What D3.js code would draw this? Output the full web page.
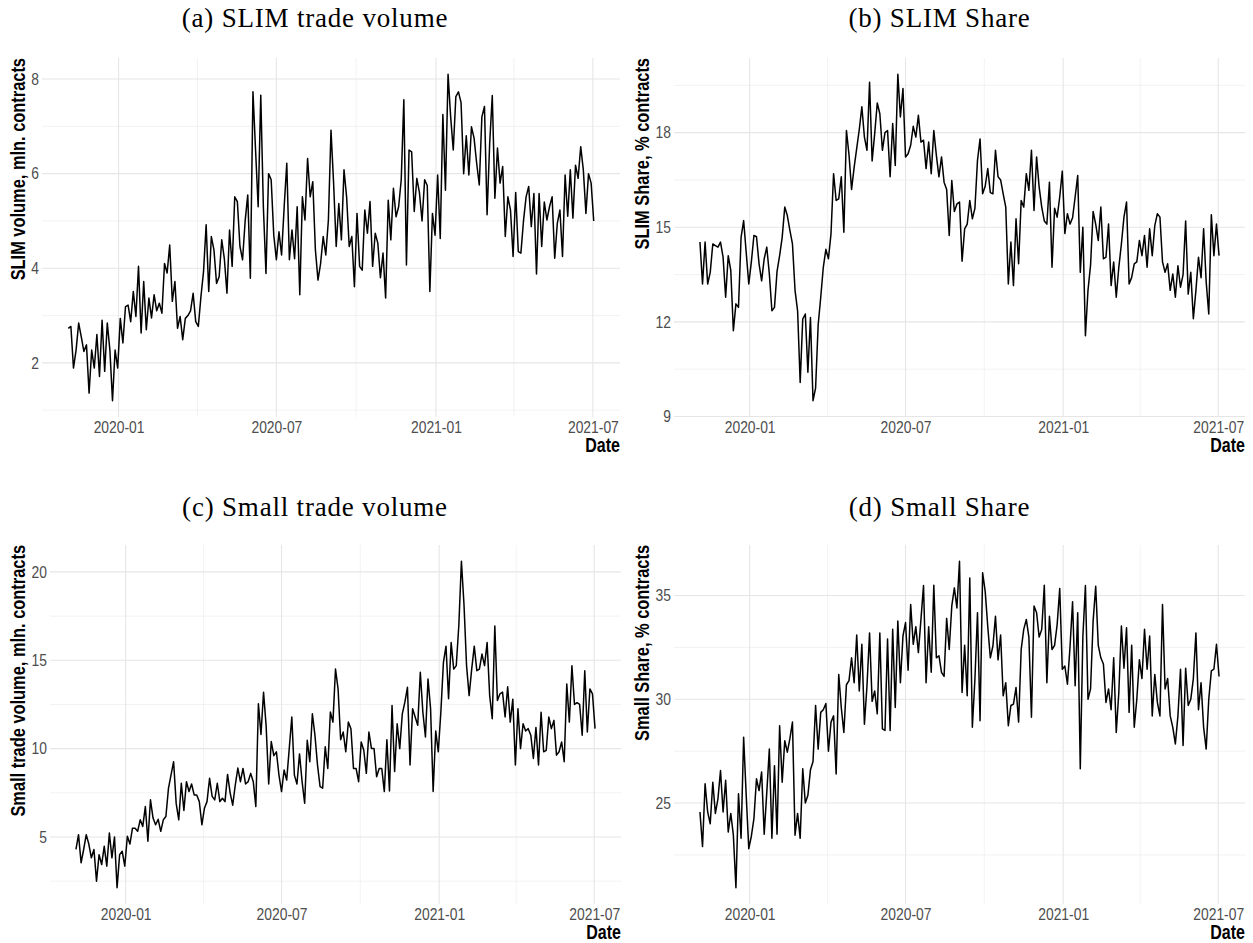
<!DOCTYPE html>
<html>
<head>
<meta charset="utf-8">
<script src="https://cdn.jsdelivr.net/npm/d3@7"></script>
<style>
  body { margin: 0; background: #fff; }
  .tick-label { font-family: "Liberation Sans", Arial, sans-serif; font-size: 16.5px; fill: #4d4d4d; }
  .axis-title { font-family: "Liberation Sans", Arial, sans-serif; font-size: 20px; font-weight: bold; fill: #000; }
  .plot-title { font-family: "Liberation Serif", "DejaVu Serif", serif; font-size: 27px; fill: #000; letter-spacing: 0.8px; }
</style>
</head>
<body>
<svg id="chart" width="1253" height="943"></svg>
<script>
// series, one value every 3 calendar days from the first session
var startDate = "2019-11-04";
var stepDays = 3;

var slimVolume = [
  2.73,2.77,1.89,2.27,2.84,2.55,2.24,2.38,1.36,2.27,
  1.89,2.6,1.71,2.9,1.82,2.84,2.27,1.2,2.27,1.89,
  2.94,2.42,3.19,3.22,2.87,3.51,2.98,4.04,2.63,3.72,
  2.7,3.37,2.95,3.44,3.1,3.26,3.05,4.1,3.9,4.49,
  3.3,3.72,2.73,2.98,2.49,2.94,3.0,3.1,3.47,2.87,
  2.77,3.4,3.93,4.92,3.51,4.67,4.39,3.68,3.82,4.6,
  4.2,3.47,4.81,4.04,5.51,5.41,4.46,4.18,5.0,5.55,
  3.79,7.73,6.5,5.3,7.66,5.3,3.89,6.0,5.87,4.7,
  4.18,4.77,4.28,5.3,6.22,4.18,4.81,4.2,5.3,3.44,
  5.51,5.02,6.32,5.51,5.83,4.39,3.75,4.1,4.67,4.28,
  5.02,6.92,5.8,4.46,5.37,4.6,6.08,5.51,4.46,4.67,
  3.61,5.16,4.04,3.96,5.23,4.74,5.41,4.04,4.74,4.53,
  3.8,4.32,3.37,5.44,4.6,5.69,5.09,5.3,5.87,7.56,
  4.07,6.5,6.46,5.2,5.9,5.6,5.0,5.87,5.75,3.51,
  5.16,4.7,5.97,4.63,7.25,5.65,8.1,7.2,6.5,7.63,
  7.73,7.5,6.0,6.8,5.97,6.99,6.75,6.22,5.76,7.2,
  7.42,5.13,6.64,7.65,5.48,6.54,5.8,6.15,4.67,5.51,
  5.23,4.25,5.6,4.35,4.32,5.0,5.51,5.73,4.88,5.58,
  3.88,5.58,4.46,5.4,5.02,5.3,5.51,4.21,4.95,5.23,
  4.25,5.97,5.1,6.08,5.06,6.18,5.9,6.57,6.08,5.16,
  6.0,5.8,5.0
];

var slimShare = [
  14.53,13.2,14.53,13.2,13.57,14.47,14.42,14.37,14.53,14.05,
  12.78,14.1,13.63,11.72,12.57,12.46,14.68,15.21,14.2,13.2,
  13.9,14.74,14.7,13.84,13.3,14.0,14.37,13.52,12.35,12.46,
  13.6,14.1,14.68,15.64,15.37,14.9,14.47,13.0,12.35,10.08,
  12.09,12.25,10.4,12.14,9.5,9.9,11.9,12.78,13.73,14.3,
  14.0,14.8,16.7,15.85,15.9,16.6,14.84,18.07,17.3,16.2,
  16.9,17.5,18.1,18.82,17.86,17.44,19.6,17.1,17.97,18.94,
  18.6,17.44,18.0,18.07,16.6,18.29,16.96,19.85,18.5,19.4,
  17.23,17.33,17.6,18.2,17.86,18.55,17.7,17.76,16.86,17.7,
  16.7,18.07,17.28,16.6,17.23,16.43,16.2,14.74,16.48,15.5,
  15.74,15.8,13.92,14.95,15.1,15.85,15.27,15.6,17.12,17.8,
  16.06,16.3,16.86,16.1,16.06,17.44,16.6,16.5,16.06,15.64,
  13.2,14.53,13.15,15.27,13.84,15.85,15.64,16.7,16.17,17.44,
  15.53,17.23,16.27,15.64,15.2,15.1,16.43,13.73,15.6,15.32,
  15.96,16.78,14.8,15.43,15.1,15.3,15.96,16.64,13.57,15.0,
  11.56,13.0,13.8,15.5,15.1,14.58,15.64,14.0,14.05,15.1,
  13.15,13.9,12.78,13.73,14.47,15.32,15.8,13.2,13.41,13.84,
  13.9,14.58,14.1,14.74,13.73,14.95,14.1,15.05,15.43,15.32,
  13.9,13.57,13.84,13.0,13.52,12.78,13.78,13.1,13.5,15.2,
  12.88,13.57,12.1,13.0,14.05,13.4,14.95,13.26,12.25,15.4,
  14.1,15.1,14.1
];

var smallVolume = [
  4.3,5.13,3.54,4.29,5.13,4.6,3.82,4.29,2.5,4.0,
  3.44,4.47,3.35,5.22,3.82,5.0,2.13,4.0,4.19,3.35,
  5.04,4.6,5.5,5.5,5.32,5.97,5.6,6.72,4.76,7.1,
  6.07,5.69,6.0,5.32,5.97,6.16,7.75,8.51,9.26,6.9,
  5.97,8.04,6.5,8.13,7.57,8.0,7.38,7.38,7.0,5.69,
  6.63,7.0,8.32,7.3,7.1,8.04,7.0,7.19,7.0,8.54,
  7.5,6.8,7.94,8.9,8.13,8.88,8.0,8.13,8.6,8.13,
  6.72,12.54,10.8,13.19,11.3,8.0,10.4,9.6,9.82,8.5,
  7.57,8.79,8.22,10.0,11.79,8.5,8.0,9.7,8.13,6.91,
  10.47,9.26,11.97,10.76,9.07,7.85,7.76,10.1,8.88,12.07,
  11.5,14.5,13.38,10.5,10.94,9.82,11.5,11.13,8.88,8.88,
  8.13,10.38,9.91,8.6,10.94,10.0,10.0,8.41,8.88,8.88,
  7.57,10.5,7.6,12.44,8.7,11.41,10.0,11.97,12.63,13.47,
  9.07,12.26,11.79,11.32,14.32,12.06,10.66,13.94,12.26,7.57,
  11.0,9.82,12.07,14.88,15.8,12.82,16.0,14.5,14.7,17.0,
  20.6,18.16,14.7,13.0,14.5,15.8,14.41,14.5,15.35,14.7,
  16.0,13.0,11.69,16.94,12.72,13.1,13.2,11.79,13.5,11.5,
  12.8,9.07,12.26,10.0,11.41,11.0,11.13,10.76,9.44,11.2,
  9.07,12.06,9.82,9.9,11.79,11.13,11.6,9.63,9.82,10.38,
  9.26,13.66,11.5,14.69,12.5,12.6,12.5,10.76,14.41,10.94,
  13.38,13.1,11.13
];

var smallShare = [
  24.57,22.9,25.93,24.57,24.0,26.0,24.5,25.2,26.57,24.57,
  26.1,23.6,24.5,23.45,20.92,25.45,23.3,28.17,25.37,22.8,
  23.4,24.25,26.17,25.6,26.5,23.5,25.5,27.6,23.3,26.8,
  23.5,28.73,26.0,28.0,27.45,28.1,28.9,23.45,24.5,23.3,
  26.65,25.0,25.37,26.6,27.0,29.7,27.6,29.37,29.5,29.8,
  27.5,28.9,29.2,26.4,31.2,29.6,28.4,30.7,30.9,32.0,
  30.8,33.1,30.4,32.65,28.8,30.65,33.2,29.9,30.4,29.3,
  33.2,28.57,28.5,32.9,28.5,33.37,29.6,33.77,30.8,33.05,
  33.7,31.4,34.57,32.65,33.5,32.25,33.85,35.48,30.8,33.5,
  31.3,35.5,32.0,32.1,31.3,31.1,33.9,32.4,34.5,35.37,
  34.4,36.65,30.33,32.6,30.17,35.85,28.65,30.97,34.17,28.97,
  36.1,35.2,33.5,32.0,32.57,34.0,31.9,33.1,30.17,30.8,
  28.73,29.7,29.77,30.57,28.9,32.4,33.37,33.85,33.0,29.13,
  34.5,34.17,33.0,33.37,35.5,30.8,34.0,32.4,32.6,33.6,
  35.34,31.45,31.6,30.73,32.5,34.7,30.65,34.17,26.65,33.0,
  35.48,30.0,30.5,33.77,35.45,32.6,32.0,31.7,29.85,30.5,
  29.5,32.0,28.4,30.33,33.53,31.5,33.45,29.37,32.6,28.65,
  30.0,31.9,31.0,33.37,31.45,33.05,29.2,31.2,29.85,29.2,
  34.57,30.5,31.0,29.2,28.65,27.85,29.2,31.45,27.77,31.5,
  29.7,30.0,31.0,33.2,29.5,30.8,28.65,27.6,30.0,31.37,
  31.45,32.65,31.1
];

// axis breaks
var xTicks = ["2020-01-01", "2020-07-01", "2021-01-01", "2021-07-01"];
var xMinorTicks = ["2019-10-01", "2020-04-01", "2020-10-01", "2021-04-01", "2021-10-01"];
var slimVolumeTicks = [2, 4, 6, 8],      slimVolumeMinor = [1, 3, 5, 7, 9];
var slimShareTicks = [9, 12, 15, 18],    slimShareMinor = [7.5, 10.5, 13.5, 16.5, 19.5];
var smallVolumeTicks = [5, 10, 15, 20],  smallVolumeMinor = [2.5, 7.5, 12.5, 17.5];
var smallShareTicks = [25, 30, 35],      smallShareMinor = [20, 22.5, 27.5, 32.5, 37.5];

var parseDay = d3.timeParse("%Y-%m-%d");
var fmtTick = d3.timeFormat("%Y-%m");
var t0 = parseDay(startDate);

var panels = [
  {title: "(a) SLIM trade volume", yTitle: "SLIM volume, mln. contracts", values: slimVolume,
   ticks: slimVolumeTicks, minor: slimVolumeMinor, left: 42, right: 620, top: 58, bottom: 417, cx: 315, ty: 27, ytx: 25},
  {title: "(b) SLIM Share", yTitle: "SLIM Share, % contracts", values: slimShare,
   ticks: slimShareTicks, minor: slimShareMinor, left: 674, right: 1245, top: 58, bottom: 417, cx: 939.5, ty: 27, ytx: 649},
  {title: "(c) Small trade volume", yTitle: "Small trade volume, mln. contracts", values: smallVolume,
   ticks: smallVolumeTicks, minor: smallVolumeMinor, left: 50, right: 621, top: 545, bottom: 904, cx: 315, ty: 516, ytx: 25},
  {title: "(d) Small Share", yTitle: "Small Share, % contracts", values: smallShare,
   ticks: smallShareTicks, minor: smallShareMinor, left: 674, right: 1245, top: 545, bottom: 904, cx: 939.5, ty: 516, ytx: 649}
];

// no narrow face installed, so squeeze the sans text horizontally
function condense(sel, k) {
  sel.each(function () {
    var len = this.getComputedTextLength();
    d3.select(this).attr("textLength", len * k).attr("lengthAdjust", "spacingAndGlyphs");
  });
}

var svg = d3.select("#chart");

panels.forEach(function (p) {
  var data = p.values.map(function (v, i) {
    return {date: d3.timeDay.offset(t0, i * stepDays), v: v};
  });

  // ggplot style 5% expansion on both axes
  var xExt = d3.extent(data, function (d) { return d.date; });
  var xPad = (xExt[1] - xExt[0]) * 0.05;
  var x = d3.scaleTime()
    .domain([new Date(+xExt[0] - xPad), new Date(+xExt[1] + xPad)])
    .range([p.left, p.right]);

  var yExt = d3.extent(data, function (d) { return d.v; });
  var yPad = (yExt[1] - yExt[0]) * 0.05;
  var y = d3.scaleLinear()
    .domain([yExt[0] - yPad, yExt[1] + yPad])
    .range([p.bottom, p.top]);

  var g = svg.append("g");
  var xd = x.domain(), yd = y.domain();

  // minor grid first, then major
  g.selectAll(".ymin").data(p.minor.filter(function (v) { return v >= yd[0] && v <= yd[1]; }))
    .enter().append("line")
    .attr("x1", p.left).attr("x2", p.right)
    .attr("y1", function (d) { return y(d); }).attr("y2", function (d) { return y(d); })
    .attr("stroke", "#efefef").attr("stroke-width", 0.8);

  g.selectAll(".xmin").data(xMinorTicks.map(parseDay).filter(function (d) { return d >= xd[0] && d <= xd[1]; }))
    .enter().append("line")
    .attr("y1", p.top).attr("y2", p.bottom)
    .attr("x1", function (d) { return x(d); }).attr("x2", function (d) { return x(d); })
    .attr("stroke", "#efefef").attr("stroke-width", 0.8);

  g.selectAll(".ymaj").data(p.ticks)
    .enter().append("line")
    .attr("x1", p.left).attr("x2", p.right)
    .attr("y1", function (d) { return y(d); }).attr("y2", function (d) { return y(d); })
    .attr("stroke", "#e6e6e6").attr("stroke-width", 1.1);

  g.selectAll(".xmaj").data(xTicks.map(parseDay))
    .enter().append("line")
    .attr("y1", p.top).attr("y2", p.bottom)
    .attr("x1", function (d) { return x(d); }).attr("x2", function (d) { return x(d); })
    .attr("stroke", "#e6e6e6").attr("stroke-width", 1.1);

  // axes, labels only
  var yAxis = g.append("g")
    .attr("transform", "translate(" + p.left + ",0)")
    .call(d3.axisLeft(y).tickValues(p.ticks).tickSize(0).tickPadding(3).tickFormat(d3.format("d")));
  yAxis.select(".domain").remove();
  yAxis.selectAll("text").attr("class", "tick-label").attr("font-family", null).attr("font-size", null).attr("fill", null);
  condense(yAxis.selectAll("text"), 0.84);

  var xAxis = g.append("g")
    .attr("transform", "translate(0," + p.bottom + ")")
    .call(d3.axisBottom(x).tickValues(xTicks.map(parseDay)).tickSize(0).tickPadding(4).tickFormat(fmtTick));
  xAxis.select(".domain").remove();
  xAxis.selectAll("text").attr("class", "tick-label").attr("font-family", null).attr("font-size", null).attr("fill", null);
  condense(xAxis.selectAll("text"), 0.84);

  // the series
  var line = d3.line()
    .x(function (d) { return x(d.date); })
    .y(function (d) { return y(d.v); });

  g.append("path")
    .datum(data)
    .attr("d", line)
    .attr("fill", "none")
    .attr("stroke", "#000")
    .attr("stroke-width", 1.5)
    .attr("stroke-linejoin", "round");

  // titles
  g.append("text")
    .attr("class", "plot-title")
    .attr("x", p.cx).attr("y", p.ty)
    .attr("text-anchor", "middle")
    .text(p.title);

  var yt = g.append("text")
    .attr("class", "axis-title")
    .attr("transform", "translate(" + p.ytx + "," + p.top + ") rotate(-90)")
    .attr("text-anchor", "end")
    .text(p.yTitle);
  condense(yt, 0.82);

  var dt = g.append("text")
    .attr("class", "axis-title")
    .attr("x", p.right).attr("y", p.bottom + 35)
    .attr("text-anchor", "end")
    .text("Date");
  condense(dt, 0.8);
});
</script>
</body>
</html>
